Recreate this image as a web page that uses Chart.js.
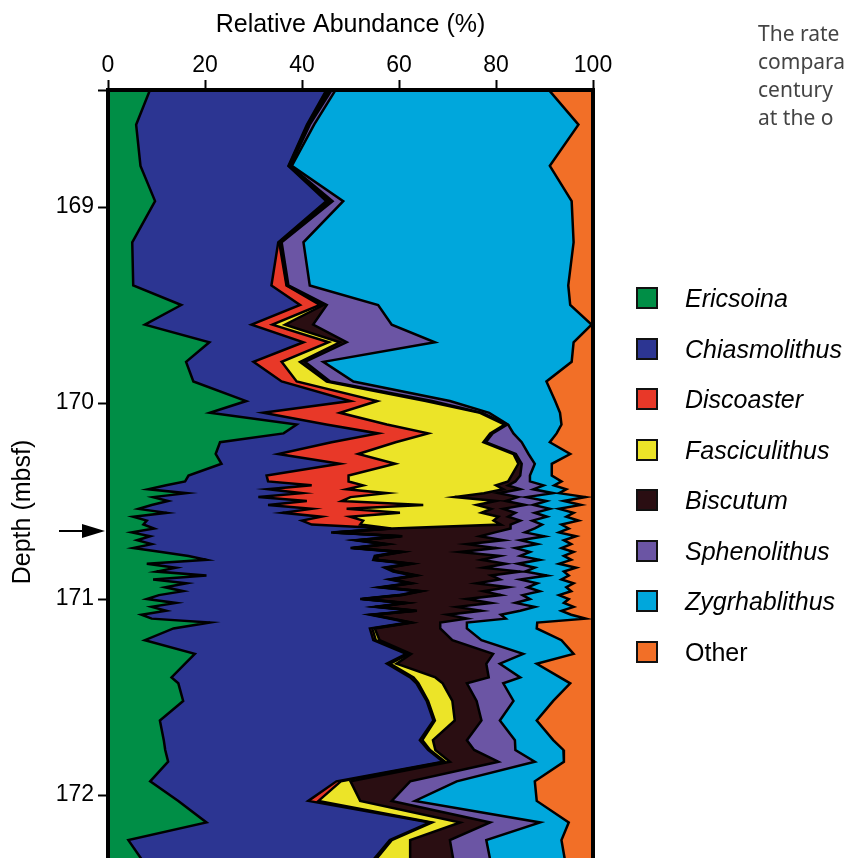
<!DOCTYPE html>
<html>
<head>
<meta charset="utf-8">
<title>Relative abundance vs depth</title>
<script src="https://cdn.jsdelivr.net/npm/chart.js@4.4.1/dist/chart.umd.min.js"></script>
<style>
  html, body { margin: 0; padding: 0; background: #fff; }
  body { width: 848px; height: 858px; overflow: hidden; position: relative; }
  #wrap { position: absolute; left: 0; top: 0; width: 848px; height: 940px; }
  #legend { position: absolute; left: 0; top: 0; font-family: "Liberation Sans", Arial, sans-serif; font-size: 25px; color: #000; }
  .box { position: absolute; left: 636px; width: 22px; height: 22px; box-sizing: border-box; border: 2px solid #111; }
  .lbl { position: absolute; left: 685px; line-height: 30px; white-space: nowrap; }
  #note { position: absolute; left: 758px; top: 19px; font-family: "Noto Sans", "Open Sans", sans-serif; font-size: 21px; line-height: 28px; color: #444; white-space: nowrap; }
</style>
</head>
<body>
<div id="wrap">
  <canvas id="chart" width="848" height="940"></canvas>
  <div id="legend"></div>
  <div id="note">The rate<br>compara<br>century<br>at the o</div>
</div>
<script>
// sample depths (mbsf)
const depth = [
  168.40, 168.58, 168.79, 168.97, 169.18, 169.40, 169.50, 169.60, 169.69, 169.79, 169.89, 169.99,
  170.05, 170.11, 170.155, 170.20, 170.26, 170.31, 170.37,
  170.40, 170.42, 170.44, 170.46, 170.48, 170.50, 170.52, 170.54, 170.56, 170.58,
  170.60, 170.62, 170.64, 170.66, 170.68, 170.70, 170.72, 170.74, 170.76, 170.78,
  170.80, 170.82, 170.84, 170.86, 170.88, 170.90, 170.92, 170.94, 170.96, 170.98,
  171.00, 171.02, 171.04, 171.06, 171.08, 171.10, 171.12,
  171.15, 171.21, 171.28, 171.33, 171.40, 171.43, 171.52, 171.62, 171.72, 171.77, 171.83, 171.93, 172.03, 172.14, 172.23, 172.33
];

// cumulative abundance (%) at the right edge of each group
const edgeEricsoina = [
  8.7, 5.8, 6.7, 9.7, 5.0, 5.2, 15.1, 7.6, 20.9, 16.1, 17.6, 28.5,
  21.0, 38.9, 36.2, 23.1, 22.2, 23.4, 16.6,
  15.9, 12.0, 8.3, 16.2, 9.3, 12.4, 9.0, 6.3, 12.1, 5.2,
  8.0, 7.3, 9.5, 4.9, 8.7, 6.0, 9.0, 5.2, 11.0, 16.6,
  20.3, 8.0, 14.0, 10.0, 20.3, 9.3, 16.2, 11.8, 15.5, 10.5,
  8.0, 14.0, 9.0, 12.0, 6.9, 9.0, 21.0,
  13.5, 7.6, 17.9, 15.9, 13.1, 14.5, 15.5, 10.7, 11.5, 11.8, 12.4, 8.7, 14.5, 20.3, 4.2, 7.0
];
const edgeChiasmolithus = [
  45.1, 41.0, 37.2, 45.0, 35.1, 33.7, 39.6, 29.6, 40.3, 30.0, 35.8, 50.0,
  32.0, 45.0, 55.7, 46.1, 35.1, 47.8, 32.7,
  33, 42, 33, 40, 31, 41, 33, 42, 36, 44,
  40, 42, 58, 46, 60, 51, 57, 50, 60, 55,
  54.7, 62, 57, 58.8, 63, 58, 62, 56, 64, 60,
  52, 61, 55, 63, 54, 58, 62,
  54, 54.7, 61.5, 57.5, 62.3, 63.6, 65.7, 67.1, 64.3, 66, 69.1, 47.1, 41.3, 66.4, 58.1, 54.7
];
const edgeDiscoaster = [
  45.4, 41.2, 37.3, 45.6, 35.3, 36.8, 43.7, 33.9, 45.5, 35.8, 38.9, 55.5,
  47.8, 57.5, 66.0, 59.3, 51.6, 59.2, 49.6,
  49.6, 52.6, 49.2, 57.5, 50.0, 48.2, 65.0, 49.2, 60.2, 49.9,
  52.6, 52.0, 58.4, 46.4, 60.4, 51.4, 57.4, 50.4, 60.4, 55.4,
  55.1, 62.4, 57.4, 59.2, 63.4, 58.4, 62.4, 56.4, 64.4, 60.4,
  52.4, 61.4, 55.4, 63.4, 54.4, 58.4, 62.4,
  54.5, 55.2, 62.0, 58.2, 63.0, 64.0, 66.0, 67.4, 64.8, 66.4, 69.5, 48.0, 43.4, 66.8, 58.5, 55.2
];
const edgeFasciculithus = [
  45.7, 41.4, 37.4, 45.8, 35.5, 36.9, 44.4, 36.5, 47.8, 39.6, 45.1, 65.5,
  76.7, 81.8, 78.8, 77.4, 83.6, 84.6, 83.2,
  82.5, 80.0, 81.5, 77.5, 71.5, 80.0, 76.0, 79.0, 77.0, 80.5,
  79.5, 81.0, 58.7, 46.7, 60.7, 51.7, 57.7, 50.7, 60.7, 55.7,
  55.4, 62.7, 57.7, 59.5, 63.7, 58.7, 62.7, 56.7, 64.7, 60.7,
  52.7, 61.7, 55.7, 63.7, 54.7, 58.7, 62.7,
  55.0, 56.0, 62.5, 59.5, 67.5, 69.0, 71.0, 71.5, 67.0, 67.5, 70.5, 50.0, 52.0, 72.6, 62.3, 62.3
];
const edgeBiscutum = [
  46.2, 41.6, 37.6, 46.3, 35.8, 37.2, 45.1, 42.3, 49.2, 40.6, 45.8, 66.8,
  77.2, 82.3, 79.3, 77.9, 84.1, 85.3, 85.0,
  84.0, 82.5, 85.0, 80.5, 84.5, 82.0, 86.0, 81.5, 84.0, 82.5,
  85.0, 83.0, 83.0, 79.8, 76.7, 81.5, 74.0, 80.1, 72.6, 80.8,
  77.0, 82.0, 77.4, 85.0, 79.0, 80.8, 76.0, 82.5, 77.4, 81.0,
  74.0, 79.0, 72.0, 77.0, 70.0, 74.0, 68.5,
  68.5, 71.0, 79.4, 78.0, 78.5, 74.0, 76.0, 77.0, 74.0, 75.5, 80.5, 62.3, 58.5, 78.8, 70.5, 71.2
];
const edgeSphenolithus = [
  47.0, 42.5, 37.9, 48.5, 40.3, 41.6, 55.7, 58.5, 67.4, 44.4, 50.6, 70.5,
  78.6, 82.5, 83.6, 85.3, 86.7, 88.0, 87.0,
  87.0, 89.8, 87.7, 91.8, 86.3, 90.4, 87.7, 91.1, 88.0, 90.5,
  87.5, 89.5, 88.0, 86.0, 90.0, 85.0, 88.5, 84.0, 87.0, 85.0,
  89.0, 84.5, 88.0, 86.0, 90.5, 85.0, 88.5, 86.5, 89.0, 85.5,
  87.0, 84.0, 88.0, 85.0, 81.0, 82.0, 74.0,
  74.0, 77.0, 85.6, 80.8, 85.0, 81.5, 83.6, 80.8, 83.9, 84.0, 88.0, 71.9, 63.3, 89.1, 78.0, 78.8
];
const edgeZygrhablithus = [
  90.8, 97.0, 91.1, 95.6, 96.0, 94.9, 95.3, 99.7, 96.0, 95.6, 90.4, 92.2,
  93.2, 93.5, 92.5, 91.1, 95.3, 91.5, 91.5,
  93.5, 92.0, 94.5, 93.0, 98.5, 94.0, 97.5, 93.0, 96.0, 94.5,
  97.0, 93.5, 95.0, 93.0, 96.5, 94.0, 95.5, 93.5, 96.0, 94.0,
  95.5, 93.0, 96.5, 94.0, 95.0, 93.5, 96.0, 94.5, 95.5, 93.0,
  95.0, 94.0, 96.0, 93.5, 95.5, 98.5, 88.5,
  88.4, 93.5, 96.0, 88.4, 93.2, 95.3, 91.8, 88.4, 91.8, 93.9, 94.0, 88.0, 88.4, 95.0, 93.5, 94.2
];

const taxa = ['Ericsoina', 'Chiasmolithus', 'Discoaster', 'Fasciculithus', 'Biscutum', 'Sphenolithus', 'Zygrhablithus', 'Other'];
const colors = ['#008e46', '#2c3592', '#e83828', '#ece428', '#2a0e12', '#6b55a4', '#00a7dc', '#f26f27'];
const italic = [true, true, true, true, true, true, true, false];
const depthTicks = [169, 170, 171, 172];
const arrowDepth = 170.653;

const edges = [edgeEricsoina, edgeChiasmolithus, edgeDiscoaster, edgeFasciculithus, edgeBiscutum, edgeSphenolithus, edgeZygrhablithus];

function pts(arr) {
  return arr.map((v, i) => ({ x: v, y: depth[i] }));
}

const datasets = edges.map((arr, i) => ({
  label: taxa[i],
  data: pts(arr),
  fill: i === 0 ? 'origin' : '-1',
  backgroundColor: colors[i],
  borderColor: '#000',
  borderWidth: 2.5,
  pointRadius: 0,
  tension: 0
}));
// "Other" fills from the last edge up to 100 %
datasets.push({
  label: taxa[7],
  data: pts(edgeZygrhablithus),
  fill: { value: 100 },
  backgroundColor: colors[7],
  borderWidth: 0,
  pointRadius: 0
});

const font = '"Liberation Sans", Arial, Helvetica, sans-serif';

const framePlugin = {
  id: 'frame',
  afterDatasetsDraw(chart) {
    const { ctx, chartArea: a } = chart;
    ctx.save();
    ctx.strokeStyle = '#000';
    ctx.lineWidth = 4;
    ctx.strokeRect(a.left, a.top, a.right - a.left, a.bottom - a.top);
    ctx.restore();
  }
};

const arrowPlugin = {
  id: 'arrow',
  afterDraw(chart) {
    const { ctx, chartArea, scales } = chart;
    const y = scales.y.getPixelForValue(arrowDepth);
    const tip = chartArea.left - 3;
    ctx.save();
    ctx.strokeStyle = '#000';
    ctx.fillStyle = '#000';
    ctx.lineWidth = 2;
    ctx.beginPath();
    ctx.moveTo(tip - 46, y);
    ctx.lineTo(tip - 20, y);
    ctx.stroke();
    ctx.beginPath();
    ctx.moveTo(tip, y);
    ctx.lineTo(tip - 23, y - 7);
    ctx.lineTo(tip - 23, y + 7);
    ctx.closePath();
    ctx.fill();
    ctx.restore();
  }
};

new Chart(document.getElementById('chart'), {
  type: 'line',
  data: { datasets },
  plugins: [framePlugin, arrowPlugin],
  options: {
    indexAxis: 'y',
    responsive: false,
    animation: false,
    devicePixelRatio: 1,
    layout: { padding: { left: 0, right: 255, top: 0, bottom: 6 } },
    plugins: {
      legend: { display: false },
      tooltip: { enabled: false },
      filler: { drawTime: 'beforeDatasetsDraw' }
    },
    scales: {
      x: {
        type: 'linear',
        position: 'top',
        min: 0,
        max: 100,
        ticks: { stepSize: 20, color: '#000', font: { family: font, size: 23 }, padding: 1, maxRotation: 0 },
        grid: { drawOnChartArea: false, drawTicks: true, tickLength: 10, tickWidth: 2, tickColor: '#000' },
        border: { display: false },
        title: { display: true, text: 'Relative Abundance (%)', color: '#000', font: { family: font, size: 25 }, padding: { top: 10, bottom: 0 } },
        afterFit(s) {
          s.height = 90;
          s.paddingLeft = 0;
          s.paddingRight = 0;
        }
      },
      y: {
        type: 'linear',
        reverse: true,
        min: 168.403,
        max: 172.709,
        afterBuildTicks(s) {
          s.ticks = [168.403].concat(depthTicks).map(v => ({ value: v }));
        },
        ticks: {
          color: '#000',
          font: { family: font, size: 23 },
          padding: 4,
          callback: v => (Number.isInteger(v) ? String(v) : '')
        },
        grid: { drawOnChartArea: false, drawTicks: true, tickLength: 10, tickWidth: 2, tickColor: '#000' },
        border: { display: false },
        title: { display: true, text: 'Depth (mbsf)', color: '#000', font: { family: font, size: 25 }, padding: { top: 8, bottom: 0 } },
        afterFit(s) {
          s.width = 108;
          s.paddingTop = 0;
          s.paddingBottom = 0;
        }
      }
    }
  }
});

// legend
const legend = document.getElementById('legend');
taxa.forEach((name, i) => {
  const cy = 298 + i * 50.5;
  const box = document.createElement('div');
  box.className = 'box';
  box.style.top = (cy - 11) + 'px';
  box.style.background = colors[i];
  legend.appendChild(box);
  const lbl = document.createElement('div');
  lbl.className = 'lbl';
  lbl.style.top = (cy - 15) + 'px';
  lbl.style.fontStyle = italic[i] ? 'italic' : 'normal';
  lbl.textContent = name;
  legend.appendChild(lbl);
});
</script>
</body>
</html>
